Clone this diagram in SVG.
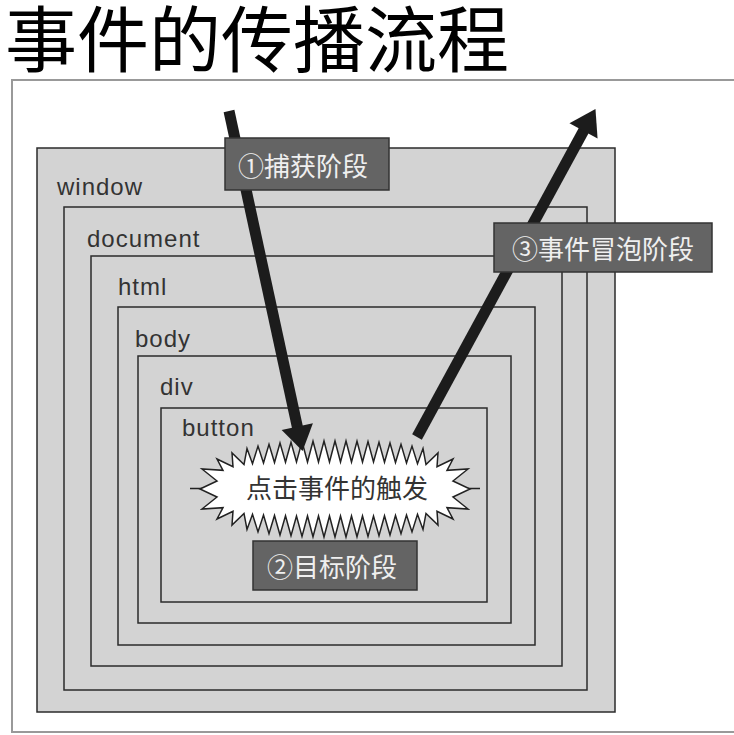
<svg xmlns="http://www.w3.org/2000/svg" width="734" height="735" viewBox="0 0 734 735">
<style>
.box{fill:#d3d3d3;stroke:#2b2b2b;stroke-width:1.5}
.lbl{font-family:"Liberation Sans","Noto Sans",Arial,sans-serif;font-size:24px;letter-spacing:1px;fill:#333}
.tag{fill:#646464;stroke:#333;stroke-width:1.5}
.tagt{font-family:"Noto Sans CJK SC","Noto Sans",sans-serif;font-size:26px;fill:#efefef}
.arrow{stroke:#1c1c1c;stroke-width:11;fill:none;marker-end:url(#ah)}
</style>
<defs>
<marker id="ah" markerUnits="userSpaceOnUse" markerWidth="30" markerHeight="34" refX="1" refY="16" orient="auto" overflow="visible">
<path d="M0,0 L25,16 L0,32 Z" fill="#1c1c1c"/>
</marker>
</defs>
<rect width="734" height="735" fill="#fff"/>
<text x="5" y="66" font-family="'Noto Sans CJK SC','Noto Sans CJK JP',sans-serif" font-size="72" fill="#000">事件的传播流程</text>
<rect id="frame" x="12" y="80" width="740" height="652" fill="#fff" stroke="#999" stroke-width="2"/>
<g id="window"><rect class="box" x="37" y="148" width="578" height="564"/><text class="lbl" x="57" y="195">window</text></g>
<g id="document"><rect class="box" x="64" y="207" width="523" height="483"/><text class="lbl" x="87" y="247">document</text></g>
<g id="html"><rect class="box" x="91" y="256" width="471" height="410"/><text class="lbl" x="118" y="295">html</text></g>
<g id="body"><rect class="box" x="118" y="307" width="417" height="338"/><text class="lbl" x="135" y="347">body</text></g>
<g id="div"><rect class="box" x="138" y="356" width="373" height="267"/><text class="lbl" x="160" y="395">div</text></g>
<g id="button"><rect class="box" x="161" y="408" width="326" height="194"/><text class="lbl" x="182" y="436">button</text></g>
<g id="trigger">
<line x1="190" y1="488.5" x2="480" y2="488.5" stroke="#222" stroke-width="1.5"/>
<polygon fill="#fff" stroke="#222" stroke-width="1.5" stroke-linejoin="miter" points="200,489 217,481 202,469 223,470.3 217,459 233,466.7 232,453 244,464.6 247,448.5 252.5,463.7 258,446.1 263.5,462.9 269,444.4 274.5,462.5 280,443.1 285.5,462.2 291,442.2 296.5,462 302,441.6 307.5,462 313,441.2 318.5,462 324,441 329.5,462 335,441 340.5,462 346,441 351.5,462 357,441.2 362.5,462 368,441.6 373.5,462 379,442.2 384.5,462.2 390,443.1 395.5,462.5 401,444.4 406.5,462.9 412,446.1 417.5,463.7 423,448.5 426,464.6 438,453 437,466.7 453,459 447,470.3 468,469 453,481 470,489 453,497 468,509 447,507.7 453,519 437,511.3 438,525 426,513.4 423,529.5 417.5,514.3 412,531.9 406.5,515.1 401,533.6 395.5,515.5 390,534.9 384.5,515.8 379,535.8 373.5,516 368,536.4 362.5,516 357,536.8 351.5,516 346,537 340.5,516 335,537 329.5,516 324,537 318.5,516 313,536.8 307.5,516 302,536.4 296.5,516 291,535.8 285.5,515.8 280,534.9 274.5,515.5 269,533.6 263.5,515.1 258,531.9 252.5,514.3 247,529.5 244,513.4 232,525 233,511.3 217,519 223,507.7 202,509 217,497"/>
<text x="337" y="498" text-anchor="middle" font-family="'Noto Sans CJK SC',sans-serif" font-size="26" fill="#333">点击事件的触发</text>
</g>
<g id="connectors">
<line class="arrow" x1="229" y1="111" x2="297.5" y2="427.5"/>
<line class="arrow" x1="417" y1="437" x2="584" y2="130"/>
</g>
<g id="capture"><rect class="tag" x="225" y="138" width="164" height="52"/><text class="tagt" x="238" y="176">①捕获阶段</text></g>
<g id="bubble"><rect class="tag" x="494" y="223" width="218" height="49"/><text class="tagt" x="512" y="259">③事件冒泡阶段</text></g>
<g id="target"><rect class="tag" x="253" y="541" width="164" height="49"/><text class="tagt" x="267" y="577">②目标阶段</text></g>
</svg>
